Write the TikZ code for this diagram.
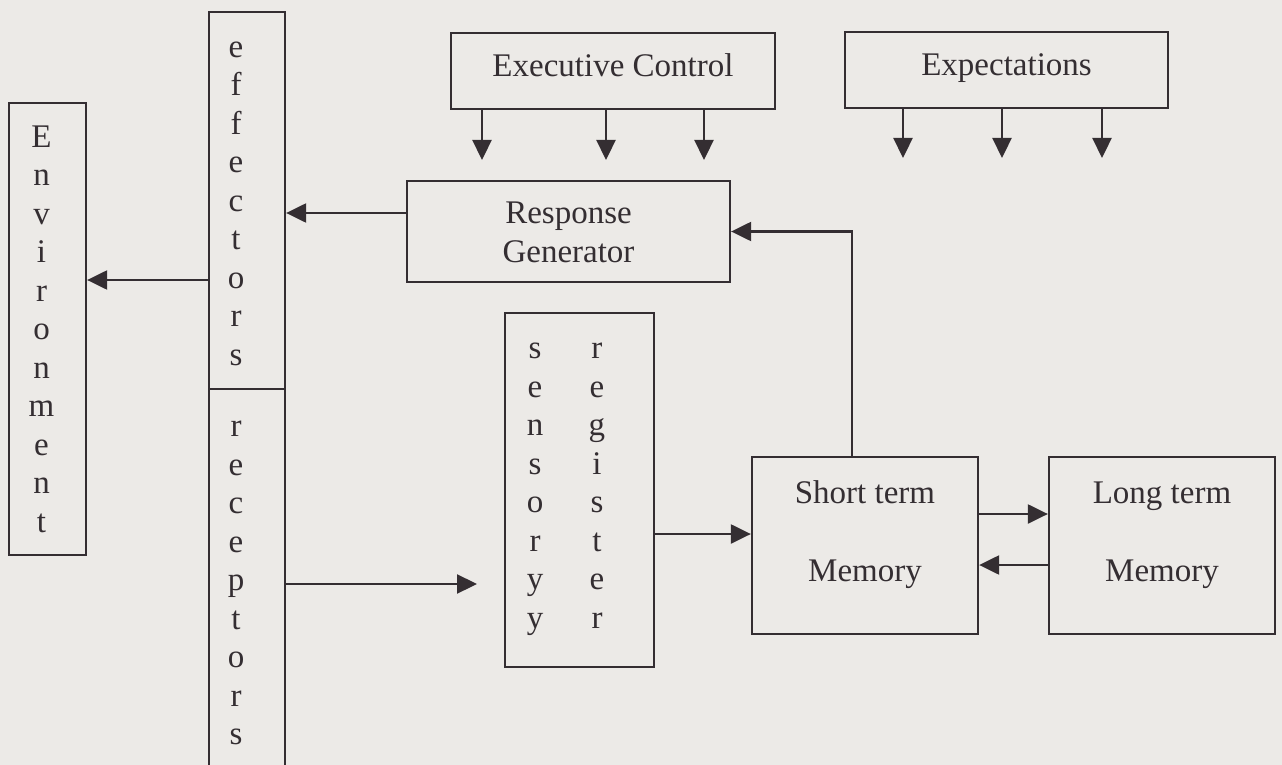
\documentclass[tikz,border=0pt]{standalone}
\usepackage{fontspec}
\setmainfont{Liberation Serif}
\usetikzlibrary{arrows.meta}
\definecolor{bg}{RGB}{236,234,231}
\definecolor{ink}{RGB}{52,46,50}
\newcommand{\lift}[2]{\raisebox{#1}[\height][\depth]{#2}}
\newcommand{\srrow}[2]{\makebox[20pt]{#1}\hspace{42pt}\makebox[20pt]{#2}\makebox[27pt]{}}
\begin{document}
\begin{tikzpicture}[x=1pt,y=-1pt,
  box/.style={draw=ink, line width=2.3pt, rectangle, inner sep=0pt, text=ink,
              font=\fontsize{33}{38.5}\selectfont},
  arr/.style={draw=ink, line width=2.3pt, -{Triangle[length=20pt,width=19pt]}}]
\fill[bg] (0,0) rectangle (1282,765);
\useasboundingbox (0,0) rectangle (1282,765);

% nodes
\node[box, minimum width=77pt, minimum height=452pt] (env) at (47.5,329)
  {\lift{-3pt}{\begin{tabular}{@{}c@{\hspace{12pt}}}E\\n\\v\\i\\r\\o\\n\\m\\e\\n\\t\end{tabular}}};
\node[box, minimum width=76pt, minimum height=377pt] (eff) at (247,200.5)
  {\lift{-3pt}{\begin{tabular}{@{}c@{\hspace{22pt}}}e\\f\\f\\e\\c\\t\\o\\r\\s\end{tabular}}};
\node[box, minimum width=76pt, minimum height=384pt] (rec) at (247,581)
  {\lift{-2pt}{\begin{tabular}{@{}c@{\hspace{22pt}}}r\\e\\c\\e\\p\\t\\o\\r\\s\end{tabular}}};
\node[box, minimum width=324pt, minimum height=76pt] (ec) at (613,71)
  {\lift{2pt}{\begin{tabular}{@{}c@{}}Executive Control\end{tabular}}};
\node[box, minimum width=323pt, minimum height=76pt] (ex) at (1006.5,70)
  {\lift{2pt}{\begin{tabular}{@{}c@{}}Expectations\end{tabular}}};
\node[box, minimum width=323pt, minimum height=101pt] (rg) at (568.5,231.5)
  {\lift{-4pt}{\begin{tabular}{@{}c@{}}Response\\Generator\end{tabular}}};
\node[box, minimum width=149pt, minimum height=354pt] (sr) at (579.5,490)
  {\lift{4pt}{\begin{tabular}{@{}l@{}}\srrow{s}{r}\\\srrow{e}{e}\\\srrow{n}{g}\\\srrow{s}{i}\\\srrow{o}{s}\\\srrow{r}{t}\\\srrow{y}{e}\\\srrow{y}{r}\end{tabular}}};
\node[box, minimum width=226pt, minimum height=177pt] (st) at (865,545.5)
  {\lift{11pt}{\begin{tabular}{@{}c@{}}Short term\\[39.5pt]Memory\end{tabular}}};
\node[box, minimum width=226pt, minimum height=177pt] (lt) at (1162,545.5)
  {\lift{11pt}{\begin{tabular}{@{}c@{}}Long term\\[39.5pt]Memory\end{tabular}}};

% free arrow ends
\coordinate (e1) at (482,160);
\coordinate (e2) at (606,160);
\coordinate (e3) at (704,160);
\coordinate (x1) at (903,158);
\coordinate (x2) at (1002,158);
\coordinate (x3) at (1102,158);
\coordinate (rt) at (477,584);

% connectors
\draw[arr] (ec.south -| e1) -- (e1);
\draw[arr] (ec.south -| e2) -- (e2);
\draw[arr] (ec.south -| e3) -- (e3);
\draw[arr] (ex.south -| x1) -- (x1);
\draw[arr] (ex.south -| x2) -- (x2);
\draw[arr] (ex.south -| x3) -- (x3);
\draw[arr] ([yshift=18.5pt]rg.west) -- ([yshift=18.5pt]rg.west -| eff.east);
\draw[arr] ([yshift=-79.5pt]eff.west) -- ([yshift=-79.5pt]eff.west -| env.east);
\draw[arr] (rec.east |- rt) -- (rt);
\draw[arr] ([yshift=-44pt]sr.east) -- ([yshift=-44pt]sr.east -| st.west);
\draw[arr] ([yshift=31.5pt]st.east) -- ([yshift=31.5pt]st.east -| lt.west);
\draw[arr] ([yshift=-19.5pt]lt.west) -- ([yshift=-19.5pt]lt.west -| st.east);
\draw[arr] ([xshift=-13pt]st.north) |- (rg.east);
\end{tikzpicture}
\end{document}
